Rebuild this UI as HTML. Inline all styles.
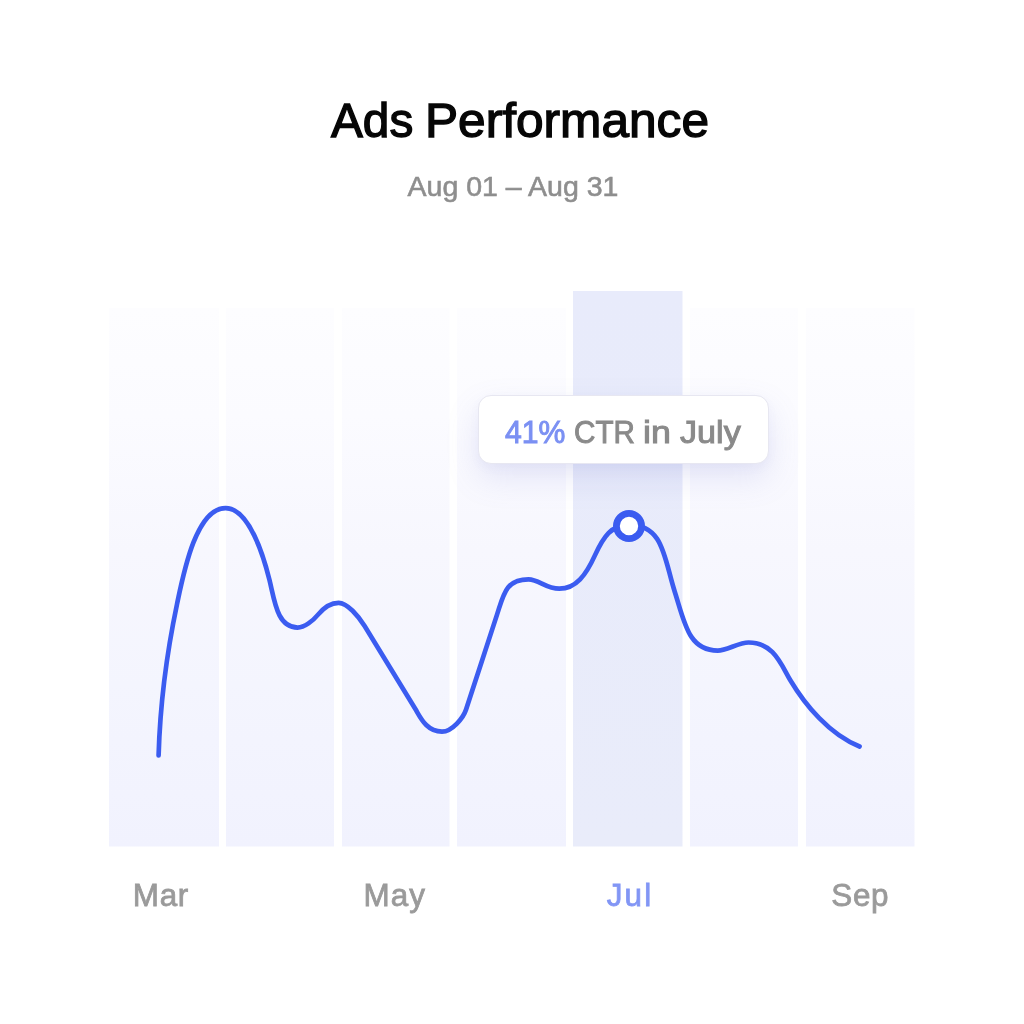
<!DOCTYPE html>
<html><head><meta charset="utf-8"><title>Ads Performance</title>
<style>
html,body{margin:0;padding:0;background:#fff;}
body{width:1024px;height:1024px;position:relative;overflow:hidden;font-family:"Liberation Sans",sans-serif;}
.t{position:absolute;white-space:nowrap;line-height:1;}
.grp{left:0;top:0;width:0;height:0;margin:0;font-weight:normal;font-size:0;}
.ti{top:95.5px;font-size:48.9px;color:#060606;-webkit-text-stroke:1.35px #060606;transform-origin:0 50%;}
#sub{left:0;width:1026px;text-align:center;top:171.5px;font-size:28.5px;color:#8e8e8e;-webkit-text-stroke:0.6px currentColor;}
.ax{font-size:31.4px;color:#9a9a9a;top:880px;transform:translateX(-50%);-webkit-text-stroke:0.8px currentColor;letter-spacing:0.7px;}
#tip{position:absolute;left:478px;top:395px;width:291px;height:69px;box-sizing:border-box;background:#fff;border:1px solid #e7e7f1;border-radius:13px;box-shadow:0 14px 32px rgba(120,125,205,0.17),0 4px 10px rgba(120,125,205,0.05);}
.tw{top:415.5px;font-size:32px;color:#8a8a8a;-webkit-text-stroke:1px currentColor;transform-origin:0 50%;}
.bl{color:#7b90f3;}
svg{position:absolute;left:0;top:0;}
</style></head><body>
<svg width="1024" height="1024" viewBox="0 0 1024 1024">
<defs>
<linearGradient id="gn" x1="0" y1="0" x2="0" y2="1"><stop offset="0" stop-color="#fdfdff"/><stop offset="0.2" stop-color="#fbfbff"/><stop offset="0.45" stop-color="#f7f7fe"/><stop offset="0.7" stop-color="#f4f5fe"/><stop offset="1" stop-color="#f1f2fe"/></linearGradient>
<linearGradient id="gh" x1="0" y1="0" x2="0" y2="1"><stop offset="0" stop-color="#e8ebfb"/><stop offset="1" stop-color="#e9ecfa"/></linearGradient>
</defs>
<rect x="109" y="308" width="110" height="538.5" fill="url(#gn)"/>
<rect x="226" y="308" width="108" height="538.5" fill="url(#gn)"/>
<rect x="342" y="308" width="107.5" height="538.5" fill="url(#gn)"/>
<rect x="457" y="308" width="109" height="538.5" fill="url(#gn)"/>
<rect x="573" y="291" width="109.5" height="555.5" fill="url(#gh)"/>
<rect x="690" y="308" width="108" height="538.5" fill="url(#gn)"/>
<rect x="806" y="308" width="108.5" height="538.5" fill="url(#gn)"/>

<path d="M158.60 755.40 C160.00 706.34 166.49 654.22 177.07 603.87 C183.46 573.49 196.06 508.09 225.57 508.09 C249.20 508.09 263.77 556.92 269.49 580.03 C274.62 600.70 277.09 627.54 297.60 627.54 C304.30 627.54 313.10 620.69 318.05 614.61 C322.77 608.84 329.59 602.78 338.59 602.78 C347.24 602.78 358.60 616.22 364.61 626.05 C381.28 653.32 398.30 681.17 415.36 709.08 C420.30 717.16 426.36 731.59 441.99 731.59 C452.27 731.59 463.48 717.40 465.98 709.75 C475.73 679.87 487.76 643.02 497.02 614.64 C503.68 594.26 505.82 579.28 528.53 579.28 C538.83 579.28 545.96 588.72 559.29 588.72 C576.08 588.72 586.08 574.77 594.79 555.60 C603.46 536.53 611.28 524.81 628.99 524.81 C663.64 524.81 663.96 557.88 674.75 591.70 C684.70 622.91 688.46 650.59 717.75 650.59 C726.55 650.59 738.70 642.50 748.57 642.50 C773.99 642.50 781.13 664.84 790.49 680.50 C805.03 704.82 829.59 734.74 859.56 746.50" fill="none" stroke="#3b5cf0" stroke-width="4.7" stroke-linecap="round" stroke-linejoin="round"/>
</svg>
<div id="tip"></div>
<div class="t grp" id="tiptxt"><span class="t tw bl" style="left:504.6px;transform:scaleX(0.9428)">41%</span> <span class="t tw" style="left:574.4px;transform:scaleX(0.9251)">CTR</span> <span class="t tw" style="left:643.2px;transform:scaleX(1.1194)">in</span> <span class="t tw" style="left:680.4px;transform:scaleX(1.0667)">July</span></div>
<svg width="1024" height="1024" viewBox="0 0 1024 1024"><circle cx="629" cy="526" r="12.6" fill="#fff" stroke="#3b5cf0" stroke-width="6.8"/></svg>
<h1 class="t grp" id="title"><span class="t ti" style="left:331.0px;transform:scaleX(0.9762)">Ads</span> <span class="t ti" style="left:425.0px;transform:scaleX(1.0146)">Performance</span></h1>
<div class="t" id="sub">Aug 01 – Aug 31</div>
<div class="t ax" style="left:160.9px">Mar</div>
<div class="t ax" style="left:394.8px;letter-spacing:1.1px">May</div>
<div class="t ax bl" style="left:630px;letter-spacing:2.2px;color:#8296f5">Jul</div>
<div class="t ax" style="left:860.3px">Sep</div>
</body></html>
